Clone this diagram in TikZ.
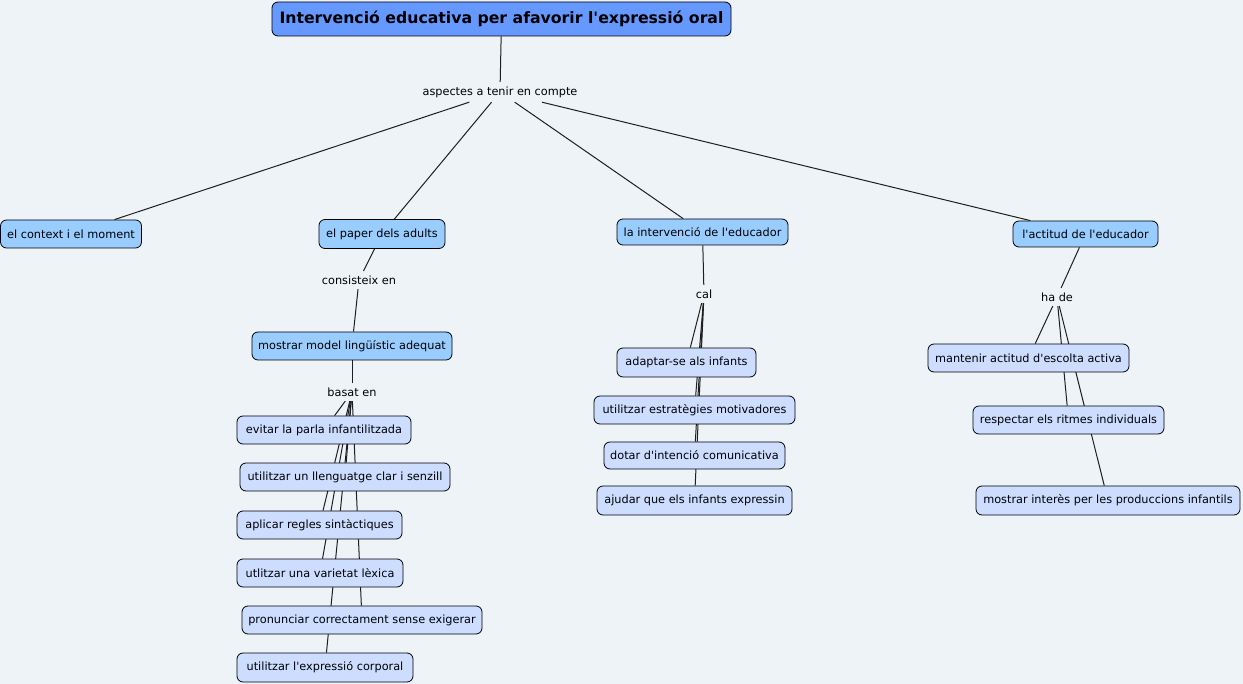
\documentclass[tikz,border=0pt]{standalone}
\usepackage{fontspec}
\newfontfamily\mapfont{DejaVu Sans}
\usetikzlibrary{backgrounds}
\definecolor{bgc}{RGB}{238,243,248}
\definecolor{titlec}{RGB}{102,153,255}
\definecolor{lvla}{RGB}{153,204,255}
\definecolor{lvlb}{RGB}{204,221,255}
\definecolor{linec}{RGB}{30,30,30}
\tikzset{
  box/.style={draw=black, line width=0.8pt, rounded corners=6pt, inner sep=0pt, align=center, font=\mapfont\fontsize{11.3}{13}\selectfont},
  titlebox/.style={box, fill=titlec, font=\mapfont\bfseries\fontsize{15.7}{18}\selectfont},
  conceptA/.style={box, fill=lvla},
  conceptB/.style={box, fill=lvlb},
  phrase/.style={inner xsep=2pt, inner ysep=4.5pt, font=\mapfont\fontsize{11.3}{13}\selectfont},
  conn/.style={draw=linec, line width=1pt},
  sz/.style 2 args={minimum width=#1pt, minimum height=#2pt}
}
\begin{document}
\begin{tikzpicture}[x=1pt,y=-1pt]
\useasboundingbox (0,0) rectangle (1243,684);
% nodes
\node[titlebox, sz={459}{34}] (title) at (501.5,19) {Intervenció educativa per afavorir l'expressió oral};
\node[phrase] (lp1) at (500,92) {aspectes a tenir en compte};
\node[conceptA, sz={141}{28}] (ctx) at (71,234) {el context i el moment};
\node[conceptA, sz={126}{29}] (pap) at (382,234) {el paper dels adults};
\node[conceptA, sz={171}{26}] (int) at (702.5,232) {la intervenció de l'educador};
\node[conceptA, sz={145}{26}] (act) at (1085.5,234) {l'actitud de l'educador};
\node[phrase] (lp2) at (359,280) {consisteix en};
\node[conceptA, sz={200}{28}] (mos) at (352,346) {mostrar model lingüístic adequat};
\node[phrase] (lp3) at (352,392) {basat en};
\node[conceptB, sz={174}{28}] (ev) at (324,430) {evitar la parla infantilitzada};
\node[conceptB, sz={210}{28}] (ull) at (345,477) {utilitzar un llenguatge clar i senzill};
\node[conceptB, sz={165}{28}] (apl) at (319.5,525) {aplicar regles sintàctiques};
\node[conceptB, sz={166}{28}] (var) at (320,573) {utlitzar una varietat lèxica};
\node[conceptB, sz={240}{28}] (pro) at (362,620) {pronunciar correctament sense exigerar};
\node[conceptB, sz={176}{29}] (cor) at (325,667.5) {utilitzar l'expressió corporal};
\node[phrase] (lp4) at (704,294) {cal};
\node[conceptB, sz={139}{29}] (ada) at (686.5,362.5) {adaptar-se als infants};
\node[conceptB, sz={201}{28}] (est) at (694.5,410) {utilitzar estratègies motivadores};
\node[conceptB, sz={181}{27}] (dot) at (694.5,455.5) {dotar d'intenció comunicativa};
\node[conceptB, sz={195}{29}] (aju) at (694.5,500.5) {ajudar que els infants expressin};
\node[phrase] (lp5) at (1057,297) {ha de};
\node[conceptB, sz={201}{28}] (man) at (1028.5,358) {mantenir actitud d'escolta activa};
\node[conceptB, sz={191}{28}] (res) at (1068.5,420) {respectar els ritmes individuals};
\node[conceptB, sz={264}{29}] (mi) at (1108,500.5) {mostrar interès per les produccions infantils};
% connectors
\begin{pgfonlayer}{background}
\fill[bgc] (0,0) rectangle (1243,684);
\draw[conn] (title) -- (lp1);
\draw[conn] (lp1) -- (ctx);
\draw[conn] (lp1) -- (pap);
\draw[conn] (lp1) -- (int);
\draw[conn] (lp1) -- (act);
\draw[conn] (pap) -- (lp2);
\draw[conn] (lp2) -- (mos);
\draw[conn] (mos) -- (lp3);
\foreach \c in {ev,ull,apl,var,pro,cor} \draw[conn] (lp3) -- (\c);
\draw[conn] (int) -- (lp4);
\foreach \c in {ada,est,dot,aju} \draw[conn] (lp4) -- (\c);
\draw[conn] (act) -- (lp5);
\foreach \c in {man,res,mi} \draw[conn] (lp5) -- (\c);
\end{pgfonlayer}
\end{tikzpicture}
\end{document}
